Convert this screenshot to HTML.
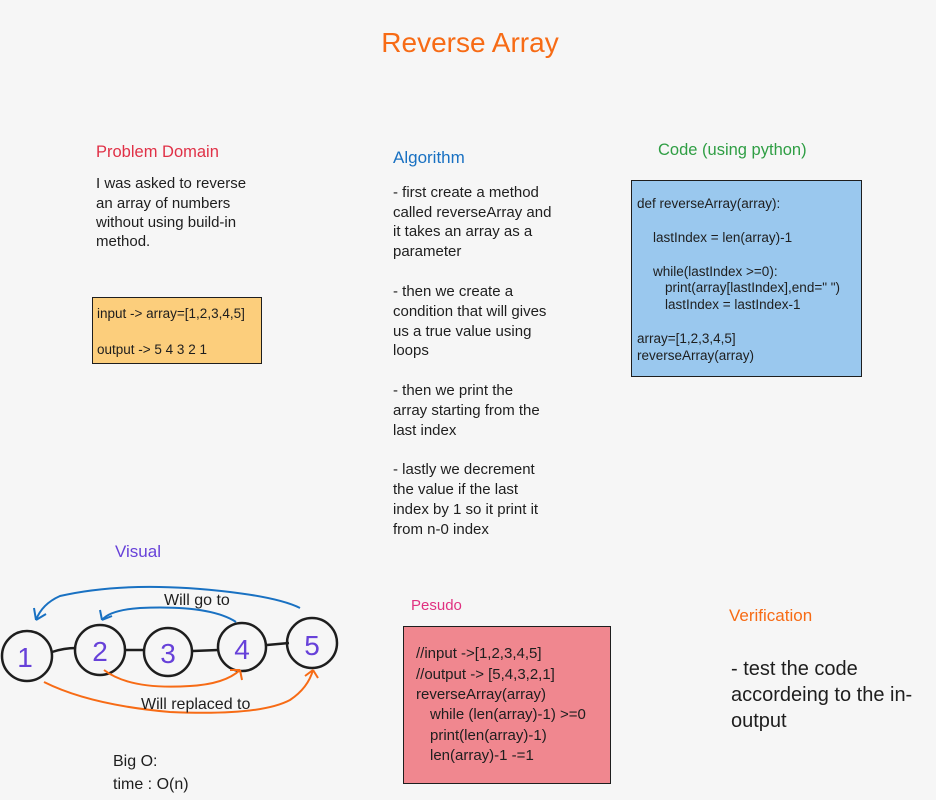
<!DOCTYPE html>
<html><head><meta charset="utf-8"><style>
html,body{margin:0;padding:0;background:#f6f6f6;}
svg{display:block;}
text{font-family:"Liberation Sans",sans-serif;}
</style></head><body>
<svg width="936" height="800" viewBox="0 0 936 800" xmlns="http://www.w3.org/2000/svg">
<rect width="936" height="800" fill="#f6f6f6"/>
<text x="470" y="52" font-size="28" fill="#f76b15" text-anchor="middle">Reverse Array</text>

<text x="96" y="157" font-size="16.5" fill="#e03147">Problem Domain</text>
<g font-size="15" fill="#1e1e1e">
<text x="96" y="188">I was asked to reverse</text>
<text x="96" y="208">an array of numbers</text>
<text x="96" y="227">without using build-in</text>
<text x="96" y="246">method.</text>
</g>
<rect x="92.5" y="297.5" width="169" height="66" fill="#fcce7c" stroke="#1e1e1e" stroke-width="1"/>
<g font-size="13.5" fill="#1e1e1e">
<text x="97" y="318">input -&gt; array=[1,2,3,4,5]</text>
<text x="97" y="354">output -&gt; 5 4 3 2 1</text>
</g>

<text x="393" y="163" font-size="17" fill="#1971c2">Algorithm</text>
<g font-size="15" fill="#1e1e1e">
<text x="393" y="197">- first create a method</text>
<text x="393" y="217">called reverseArray and</text>
<text x="393" y="236">it takes an array as a</text>
<text x="393" y="256">parameter</text>
<text x="393" y="296">- then we create a</text>
<text x="393" y="316">condition that will gives</text>
<text x="393" y="336">us a true value using</text>
<text x="393" y="355">loops</text>
<text x="393" y="395">- then we print the</text>
<text x="393" y="415">array starting from the</text>
<text x="393" y="435">last index</text>
<text x="393" y="474">- lastly we decrement</text>
<text x="393" y="494">the value if the last</text>
<text x="393" y="514">index by 1 so it print it</text>
<text x="393" y="534">from n-0 index</text>
</g>

<text x="658" y="155" font-size="16.5" fill="#2f9e44">Code (using python)</text>
<rect x="631.5" y="180.5" width="230" height="196" fill="#9ac8ee" stroke="#1e1e1e" stroke-width="1"/>
<g font-size="13.5" fill="#1e1e1e">
<text x="637" y="208">def reverseArray(array):</text>
<text x="653" y="242">lastIndex = len(array)-1</text>
<text x="653" y="276">while(lastIndex &gt;=0):</text>
<text x="665" y="292">print(array[lastIndex],end=" ")</text>
<text x="665" y="309">lastIndex = lastIndex-1</text>
<text x="637" y="343">array=[1,2,3,4,5]</text>
<text x="637" y="360">reverseArray(array)</text>
</g>

<text x="115" y="557" font-size="17" fill="#6741d9">Visual</text>
<g stroke="#1e1e1e" stroke-width="2.5" fill="none">
<path d="M52 652 Q64 648 76 648"/>
<path d="M125 650 L144 650"/>
<path d="M193 651 L218 650"/>
<path d="M267 645 L289 643"/>
<circle cx="27" cy="656" r="25"/>
<circle cx="100" cy="650" r="25"/>
<circle cx="168" cy="652" r="24"/>
<circle cx="242" cy="647" r="24"/>
<circle cx="312" cy="643" r="25"/>
</g>
<g font-size="28" fill="#6741d9" text-anchor="middle">
<text x="25" y="667">1</text>
<text x="100" y="661">2</text>
<text x="168" y="663">3</text>
<text x="242" y="659">4</text>
<text x="312" y="655">5</text>
</g>
<g stroke="#1971c2" stroke-width="2" fill="none">
<path d="M300 608 Q280 598 230 592 Q130 580 60 596 Q42 604 36 620"/>
<path d="M36 620 L34 608 M36 620 L46 614"/>
<path d="M236 622 Q210 605 140 608 Q110 610 102 620"/>
<path d="M102 620 L100 610 M102 620 L112 616"/>
</g>
<g stroke="#f76b15" stroke-width="2" fill="none">
<path d="M104 670 Q130 690 190 686 Q225 684 240 670"/>
<path d="M240 670 L230 670 M240 670 L242 680"/>
<path d="M44 682 Q90 705 170 712 Q260 716 290 700 Q308 688 313 670"/>
<path d="M313 670 L305 676 M313 670 L318 678"/>
</g>
<g font-size="16" fill="#1e1e1e">
<text x="164" y="605">Will go to</text>
<text x="141" y="709">Will replaced to</text>
<text x="113" y="766">Big O:</text>
<text x="113" y="789">time : O(n)</text>
</g>

<text x="411" y="610" font-size="15" fill="#e03180">Pesudo</text>
<rect x="403.5" y="626.5" width="207" height="157" fill="#f0878f" stroke="#1e1e1e" stroke-width="1"/>
<g font-size="15" fill="#1e1e1e">
<text x="416" y="658">//input -&gt;[1,2,3,4,5]</text>
<text x="416" y="679">//output -&gt; [5,4,3,2,1]</text>
<text x="416" y="699">reverseArray(array)</text>
<text x="430" y="719">while (len(array)-1) &gt;=0</text>
<text x="430" y="740">print(len(array)-1)</text>
<text x="430" y="760">len(array)-1 -=1</text>
</g>

<text x="729" y="621" font-size="17" fill="#f76b15">Verification</text>
<g font-size="20" fill="#1e1e1e">
<text x="731" y="675">- test the code</text>
<text x="731" y="701">accordeing to the in-</text>
<text x="731" y="727">output</text>
</g>
</svg>
</body></html>
